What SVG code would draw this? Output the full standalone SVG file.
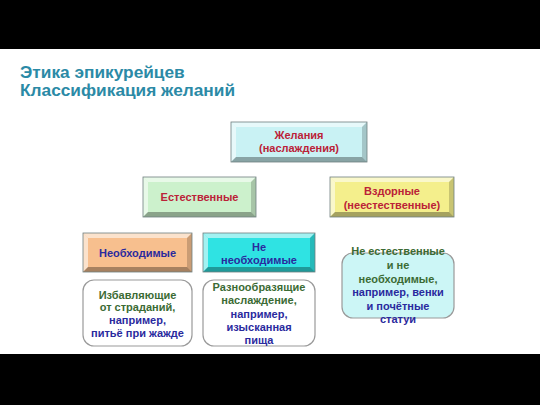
<svg xmlns="http://www.w3.org/2000/svg" width="540" height="405" viewBox="0 0 540 405">
<style>
.t{font-family:"Liberation Sans",Arial,sans-serif;font-weight:bold;font-size:11px;text-anchor:middle}
.title{font-family:"Liberation Sans",Arial,sans-serif;font-weight:bold;font-size:17.3px;fill:#2b8aa6}
.red{fill:#bb2238}
.blue{fill:#2a2a9e}
.green{fill:#3b6b34}
.hl{fill:#ffffff;fill-opacity:0.55}
.sh{fill:#000000;fill-opacity:0.32}
.sh2{fill:#000000;fill-opacity:0.18}
.edge{fill:none;stroke:#6f7f7f;stroke-width:0.8}
.round{stroke:#9a9a9a;stroke-width:1.2}
</style>
<rect width="540" height="405" fill="#ffffff"/>
<g id="title">
<text class="title" x="20" y="78">Этика эпикурейцев</text>
<text class="title" x="20" y="96">Классификация желаний</text>
</g>
<g id="connectors"></g>
<g id="n-zhelaniya">
<rect x="231" y="122" width="136" height="40" fill="#c9f2f4"/>
<polygon class="hl" points="231,122 367,122 362,127 236,127"/>
<polygon class="hl" points="231,122 236,127 236,157 231,162"/>
<polygon class="sh" points="231,162 236,157 362,157 367,162"/>
<polygon class="sh2" points="367,122 367,162 362,157 362,127"/>
<rect class="edge" x="231" y="122" width="136" height="40"/>
<text class="t red" x="299" y="139">Желания</text>
<text class="t red" x="299" y="152">(наслаждения)</text>
</g>
<g id="n-estestvennye">
<rect x="143" y="177" width="113" height="40" fill="#ccf1cc"/>
<polygon class="hl" points="143,177 256,177 251,182 148,182"/>
<polygon class="hl" points="143,177 148,182 148,212 143,217"/>
<polygon class="sh" points="143,217 148,212 251,212 256,217"/>
<polygon class="sh2" points="256,177 256,217 251,212 251,182"/>
<rect class="edge" x="143" y="177" width="113" height="40"/>
<text class="t red" x="199.5" y="201">Естественные</text>
</g>
<g id="n-vzdornye">
<rect x="330" y="177" width="124" height="40" fill="#f4ef8c"/>
<polygon class="hl" points="330,177 454,177 449,182 335,182"/>
<polygon class="hl" points="330,177 335,182 335,212 330,217"/>
<polygon class="sh" points="330,217 335,212 449,212 454,217"/>
<polygon class="sh2" points="454,177 454,217 449,212 449,182"/>
<rect class="edge" x="330" y="177" width="124" height="40"/>
<text class="t red" x="392" y="195">Вздорные</text>
<text class="t red" x="392" y="209">(неестественные)</text>
</g>
<g id="n-neobhodimye">
<rect x="83" y="233" width="109" height="39" fill="#f7bf8e"/>
<polygon class="hl" points="83,233 192,233 187,238 88,238"/>
<polygon class="hl" points="83,233 88,238 88,267 83,272"/>
<polygon class="sh" points="83,272 88,267 187,267 192,272"/>
<polygon class="sh2" points="192,233 192,272 187,267 187,238"/>
<rect class="edge" x="83" y="233" width="109" height="39"/>
<text class="t blue" x="137.5" y="257">Необходимые</text>
</g>
<g id="n-ne-neobhodimye">
<rect x="203" y="233" width="112" height="39" fill="#2fe3e3"/>
<polygon class="hl" points="203,233 315,233 310,238 208,238"/>
<polygon class="hl" points="203,233 208,238 208,267 203,272"/>
<polygon class="sh" points="203,272 208,267 310,267 315,272"/>
<polygon class="sh2" points="315,233 315,272 310,267 310,238"/>
<rect class="edge" x="203" y="233" width="112" height="39"/>
<text class="t blue" x="259" y="251">Не</text>
<text class="t blue" x="259" y="264">необходимые</text>
</g>
<g id="n-izbavlyayushchie">
<rect class="round" x="83" y="280" width="109" height="66" rx="11" fill="#ffffff"/>
<text class="t green" x="137.5" y="299">Избавляющие</text>
<text class="t green" x="137.5" y="311">от страданий,</text>
<text class="t blue" x="137.5" y="324">например,</text>
<text class="t blue" x="137.5" y="337">питьё при жажде</text>
</g>
<g id="n-raznoobrazyashchie">
<rect class="round" x="203" y="280" width="112" height="66" rx="11" fill="#ffffff"/>
<text class="t green" x="259" y="291">Разнообразящие</text>
<text class="t green" x="259" y="304">наслаждение,</text>
<text class="t blue" x="259" y="318">например,</text>
<text class="t blue" x="259" y="331">изысканная</text>
<text class="t blue" x="259" y="344">пища</text>
</g>
<g id="n-ne-estestvennye">
<rect class="round" x="342" y="253" width="112" height="65" rx="11" fill="#ccf6f6"/>
<text class="t green" x="398" y="255">Не естественные</text>
<text class="t green" x="398" y="269">и не</text>
<text class="t green" x="398" y="283">необходимые,</text>
<text class="t blue" x="398" y="296">например, венки</text>
<text class="t blue" x="398" y="310">и почётные</text>
<text class="t blue" x="398" y="323">статуи</text>
</g>
<rect x="0" y="0" width="540" height="49" fill="#000000"/>
<rect x="0" y="354" width="540" height="51" fill="#000000"/>
</svg>
